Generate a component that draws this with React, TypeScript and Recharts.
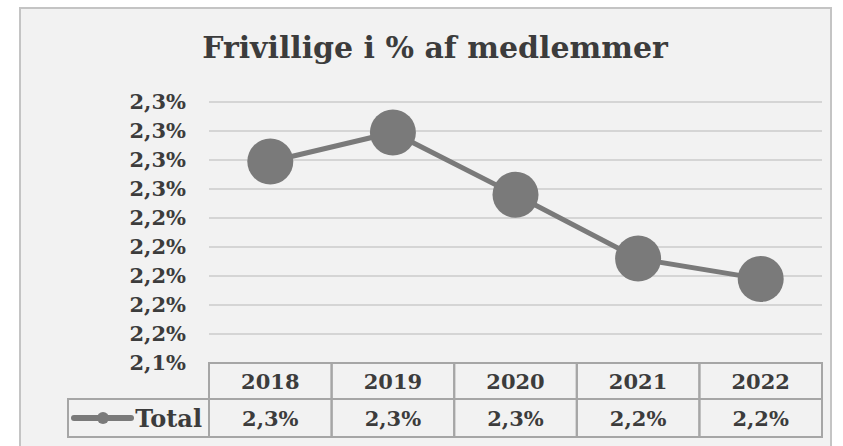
import { LineChart, Line, XAxis, YAxis, CartesianGrid } from 'recharts'

const title = 'Frivillige i % af medlemmer'
const seriesName = 'Total'
const years = ['2018', '2019', '2020', '2021', '2022']
const totals = [2.279, 2.299, 2.256, 2.212, 2.198]
const yTicks = [2.14, 2.16, 2.18, 2.2, 2.22, 2.24, 2.26, 2.28, 2.3, 2.32]

const data = years.map((year, i) => ({ year, total: totals[i] }))

const font = '"DejaVu Serif", serif'
const textColor = '#3c3c3c'
const lineColor = '#7a7a7a'
const tableLine = '#a6a6a6'

const fmt = (v: number) => v.toFixed(1).replace('.', ',') + '%'

function TableTick(props: any) {
  const { x, y, payload, index, width, visibleTicksCount } = props
  const half = payload.offset || width / visibleTicksCount / 2
  const left = x - half
  const w = half * 2
  const r1 = 36
  const r2 = 38
  return (
    <g>
      <rect x={left} y={y} width={w} height={r1} fill="none" stroke={tableLine} strokeWidth={2} />
      <rect x={left} y={y + r1} width={w} height={r2} fill="none" stroke={tableLine} strokeWidth={2} />
      <text x={x} y={y + r1 / 2 + 8} textAnchor="middle" fontFamily={font} fontWeight="bold" fontSize={21} fill={textColor}>
        {payload.value}
      </text>
      <text x={x} y={y + r1 + r2 / 2 + 8} textAnchor="middle" fontFamily={font} fontWeight="bold" fontSize={21} fill={textColor}>
        {fmt(totals[index])}
      </text>
      {index === 0 && (
        <g>
          <rect x={68} y={y + r1} width={left - 68} height={r2} fill="none" stroke={tableLine} strokeWidth={2} />
          <line x1={74} x2={131} y1={y + r1 + r2 / 2} y2={y + r1 + r2 / 2} stroke={lineColor} strokeWidth={6} strokeLinecap="round" />
          <circle cx={103} cy={y + r1 + r2 / 2} r={6} fill={lineColor} />
          <text x={202} y={y + r1 + r2 / 2 + 9} textAnchor="end" fontFamily={font} fontWeight="bold" fontSize={24} fill={textColor}>
            {seriesName}
          </text>
        </g>
      )}
    </g>
  )
}

export default function App() {
  return (
    <div style={{ position: 'absolute', left: 0, top: 0, width: 843, height: 446, background: '#fff', overflow: 'hidden' }}>
      <div
        style={{
          position: 'absolute',
          left: 19,
          top: 7,
          width: 813,
          height: 460,
          boxSizing: 'border-box',
          background: '#f2f2f2',
          border: '2px solid #c4c4c4',
        }}
      />
      <svg width={843} height={80} style={{ position: 'absolute', left: 0, top: 0 }}>
        <text x={435} y={58} textAnchor="middle" fontFamily={font} fontWeight="bold" fontSize={30} fill={textColor}>
          {title}
        </text>
      </svg>
      <div style={{ position: 'absolute', left: 0, top: 0 }}>
        <LineChart width={843} height={446} data={data} margin={{ top: 102, right: 21, left: 109, bottom: 8 }}>
          <CartesianGrid vertical={false} stroke="#cbcbcb" strokeWidth={1.5} />
          <XAxis
            dataKey="year"
            scale="band"
            height={75}
            axisLine={false}
            tickLine={false}
            tickSize={0}
            tickMargin={0}
            interval={0}
            tick={<TableTick />}
          />
          <YAxis
            width={100}
            domain={[2.14, 2.32]}
            ticks={yTicks}
            interval={0}
            axisLine={false}
            tickLine={false}
            tickSize={0}
            tickMargin={23}
            tickFormatter={fmt}
            tick={{ fontFamily: font, fontWeight: 'bold', fontSize: 21, fill: textColor }}
          />
          <Line
            type="linear"
            dataKey="total"
            name={seriesName}
            stroke={lineColor}
            strokeWidth={5}
            dot={{ r: 23, fill: lineColor, stroke: 'none' }}
            activeDot={false}
            isAnimationActive={false}
          />
        </LineChart>
      </div>
    </div>
  )
}
